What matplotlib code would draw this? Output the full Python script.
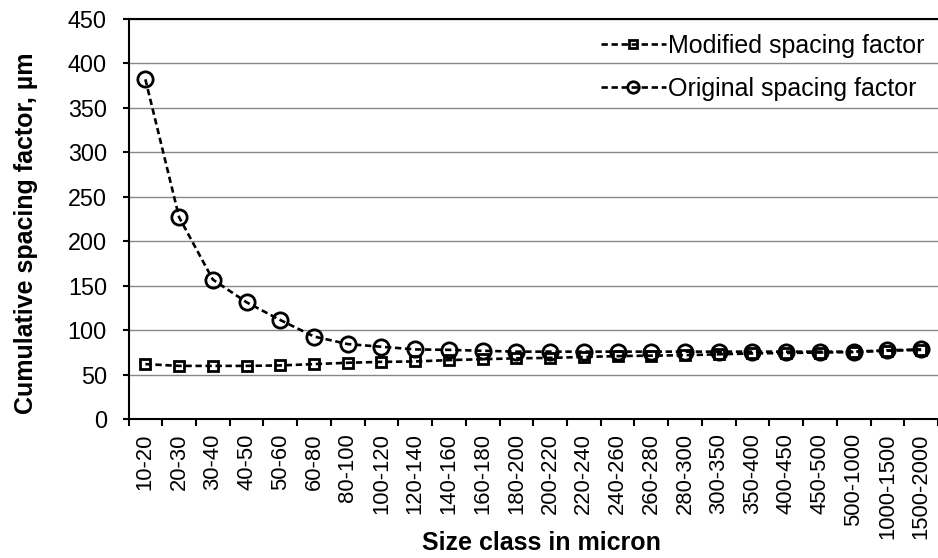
import matplotlib
matplotlib.use("Agg")
import matplotlib.pyplot as plt
import numpy as np

size_classes = [
    "10-20", "20-30", "30-40", "40-50", "50-60", "60-80", "80-100",
    "100-120", "120-140", "140-160", "160-180", "180-200", "200-220",
    "220-240", "240-260", "260-280", "280-300", "300-350", "350-400",
    "400-450", "450-500", "500-1000", "1000-1500", "1500-2000",
]
modified_factor = [
    62, 60, 60, 60, 60.5, 62, 63.5, 64.5, 65, 66.5, 67.5, 68.5,
    69, 70, 71, 71.5, 72, 73, 74, 74.5, 75, 75.5, 77, 78,
]
original_factor = [
    382, 227, 157, 131.5, 111.5, 93, 84.5, 81.5, 78.5, 78, 77, 76,
    76, 76, 76, 76, 76, 76, 76, 76, 76, 76, 77.5, 78.5,
]
y_ticks = [0, 50, 100, 150, 200, 250, 300, 350, 400, 450]


def main() -> None:
    plt.rcParams.update(
        {
            "font.family": ["Liberation Sans", "DejaVu Sans"],
            "font.size": 16.8,
        }
    )
    fig = plt.figure(figsize=(9.38, 5.58), dpi=100)
    ax = fig.add_axes([0.137, 0.2486, 0.863, 0.7177])

    x = np.arange(len(size_classes))
    line_kw = dict(
        color="black",
        linestyle="--",
        dashes=(2.4, 1.4),
        linewidth=1.9,
        markerfacecolor="none",
        markeredgecolor="black",
        markeredgewidth=2.0,
    )
    ax.plot(x, modified_factor, marker="s", markersize=7,
            label="Modified spacing factor", zorder=3, **line_kw)
    ax.plot(x, original_factor, marker="o", markersize=11,
            label="Original spacing factor", zorder=4, **line_kw)

    ax.set_xlim(-0.5, 23.47)
    ax.set_ylim(0, 450)
    ax.set_yticks(y_ticks)
    ax.yaxis.grid(True, color="#878787", linewidth=1.0)
    ax.set_axisbelow(True)

    # category labels sit between the boundary ticks
    ax.set_xticks(x)
    ax.set_xticklabels(size_classes, rotation=90, fontsize=15.8)
    ax.set_xticks(np.arange(len(size_classes) + 1) - 0.5, minor=True)
    ax.tick_params(axis="x", which="major", length=0, pad=10)
    ax.tick_params(axis="x", which="minor", direction="out", length=5, width=1.5)
    ax.tick_params(axis="y", which="major", direction="out", length=4.5, width=1.5, pad=11)

    for side in ("left", "bottom", "top"):
        ax.spines[side].set_linewidth(1.5)
        ax.spines[side].set_color("black")
    ax.spines["right"].set_visible(False)

    ax.set_xlabel("Size class in micron", fontsize=18, fontweight="bold")
    ax.set_ylabel("Cumulative spacing factor, \u00b5m", fontsize=18, fontweight="bold")
    ax.xaxis.set_label_coords(0.5096, -0.278)
    ax.yaxis.set_label_coords(-0.112, 0.465)

    ax.legend(
        loc="upper right",
        bbox_to_anchor=(0.986, 0.939),
        bbox_transform=fig.transFigure,
        frameon=False,
        fontsize=18,
        borderaxespad=0,
        borderpad=0,
        handlelength=2.6,
        handletextpad=0.1,
        labelspacing=0.75,
        markerscale=0.75,
    )

    fig.savefig("out.png", dpi=100)


if __name__ == "__main__":
    main()
